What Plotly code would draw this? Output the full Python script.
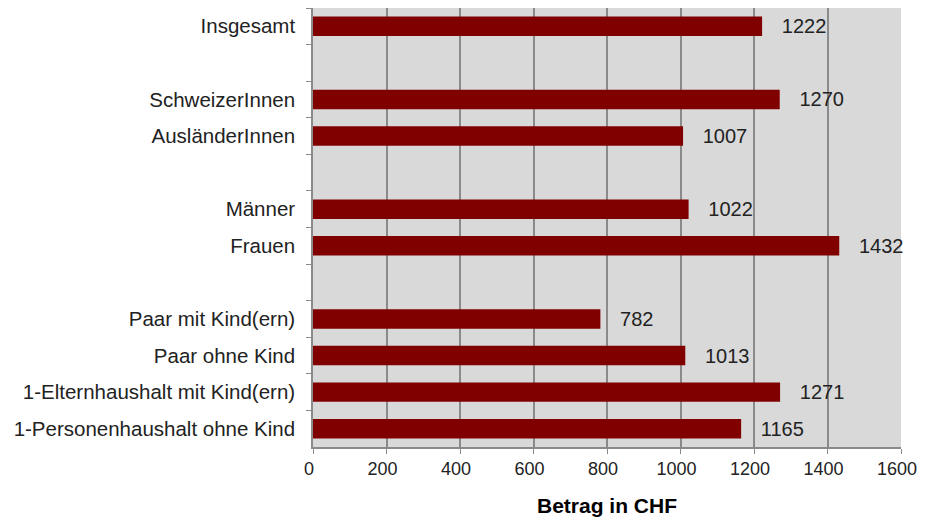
import plotly.graph_objects as go

categories = ["Insgesamt", " ", "SchweizerInnen", "AusländerInnen", "  ",
              "Männer", "Frauen", "   ", "Paar mit Kind(ern)", "Paar ohne Kind",
              "1-Elternhaushalt mit Kind(ern)", "1-Personenhaushalt ohne Kind"]
values = [1222, None, 1270, 1007, None, 1022, 1432, None, 782, 1013, 1271, 1165]
x_ticks = [0, 200, 400, 600, 800, 1000, 1200, 1400, 1600]

labels = ["   " + str(v) if v is not None else "" for v in values]

fig = go.Figure(go.Bar(
    x=values, y=categories, orientation="h",
    marker=dict(color="#800000", line=dict(width=0)),
    text=labels, textposition="outside", cliponaxis=False, constraintext="none",
    textfont=dict(size=20, color="#222222", family="Liberation Sans"),
))

# the page body adds an 8px margin, so the figure is offset by 8px
fig.update_layout(
    width=918, height=511,
    margin=dict(l=305, r=25, t=0, b=72, autoexpand=False),
    paper_bgcolor="white", plot_bgcolor="#d9d9d9",
    bargap=0.47, showlegend=False,
    font=dict(family="Liberation Sans", size=20, color="#222222"),
)
fig.update_xaxes(
    range=[0, 1600], tickvals=x_ticks, ticktext=[str(t) for t in x_ticks],
    showgrid=True, gridcolor="#8a8a8a", gridwidth=1.5,
    showline=True, linecolor="#8a8a8a", linewidth=1.5,
    ticks="outside", ticklen=5, tickcolor="#8a8a8a",
    tickfont=dict(size=18), ticklabeloverflow="allow", ticklabelshift=-4,
    zeroline=False, automargin=False,
    title=dict(text="<b>Betrag in CHF</b>", font=dict(size=21, color="#000000"), standoff=20),
)
fig.update_yaxes(
    categoryorder="array", categoryarray=categories, autorange="reversed",
    showgrid=False, showline=True, linecolor="#8a8a8a", linewidth=1.5,
    ticks="outside", ticklen=5, tickcolor="#8a8a8a", tickson="boundaries",
    ticklabelstandoff=12, automargin=False,
    tickfont=dict(size=20.5),
)
fig.write_html("out.html")
